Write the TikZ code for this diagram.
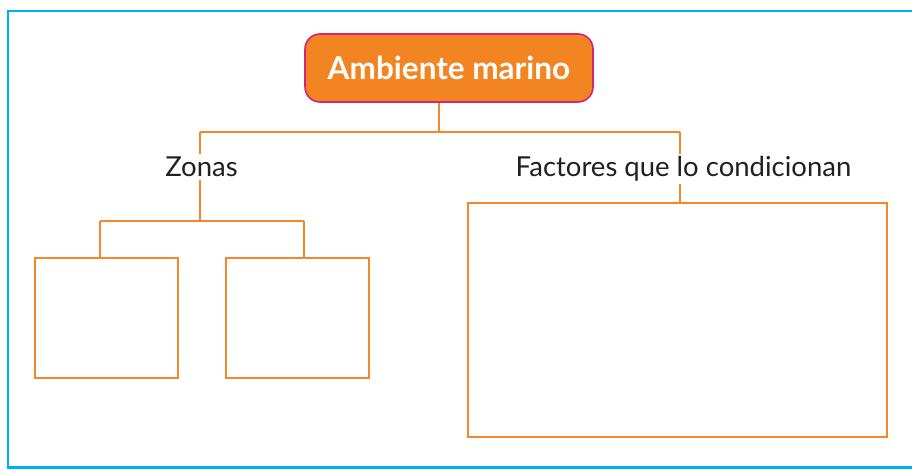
\documentclass[tikz,border=0pt]{standalone}
\usepackage{fontspec}
\setmainfont{Lato}
\definecolor{frameblue}{RGB}{0,176,236}
\definecolor{lineorange}{RGB}{245,135,40}
\definecolor{titlefill}{RGB}{243,132,34}
\definecolor{titleborder}{RGB}{214,36,122}
\definecolor{textgray}{RGB}{35,31,32}
\tikzset{
  conn/.style={draw=lineorange, line width=2.2pt},
  emptybox/.style={draw=lineorange, line width=2.2pt, fill=white},
  label/.style={fill=white, text=textgray, font=\fontsize{27.5}{32}\selectfont, inner sep=3pt},
  titlebox/.style={draw=titleborder, line width=1.6pt, fill=titlefill, rounded corners=15pt,
    text=white, font=\fontsize{31.5}{36}\selectfont\bfseries, minimum width=288pt, minimum height=68pt}
}
\begin{document}
\begin{tikzpicture}[x=1pt,y=-1pt]
\useasboundingbox (0,0) rectangle (912,470);
\begin{scope}
\clip (0,0) rectangle (912,470);
\draw[frameblue, line width=2.5pt] (8,11) rectangle (925,467.5);
\end{scope}
% nodes
\node[titlebox] (title) at (449,68) {Ambiente marino};
\coordinate (j) at (439,132);
\coordinate (jl) at (200,132);
\coordinate (jr) at (680,132);
\coordinate (jz) at (200,221);
\coordinate (jza) at (100,221);
\coordinate (jzb) at (304,221);
\node[emptybox, minimum width=143pt, minimum height=120pt] (boxA) at (106.5,318) {};
\node[emptybox, minimum width=143pt, minimum height=120pt] (boxB) at (297.5,318) {};
\node[emptybox, minimum width=419pt, minimum height=234pt] (boxC) at (677.5,320) {};
% connectors
\draw[conn] (title.south -| j) -- (j);
\draw[conn] (jl) -- (jr);
\draw[conn] (jl) -- (jz);
\draw[conn] (jza) -- (jzb);
\draw[conn] (jza) -- (jza |- boxA.north);
\draw[conn] (jzb) -- (jzb |- boxB.north);
\draw[conn] (jr) -- (jr |- boxC.north);
% labels over lines
\node[label] (zonas) at (201.5,167) {Zonas};
\node[label] (factores) at (683.5,169) {Factores que lo condicionan};
\end{tikzpicture}
\end{document}
